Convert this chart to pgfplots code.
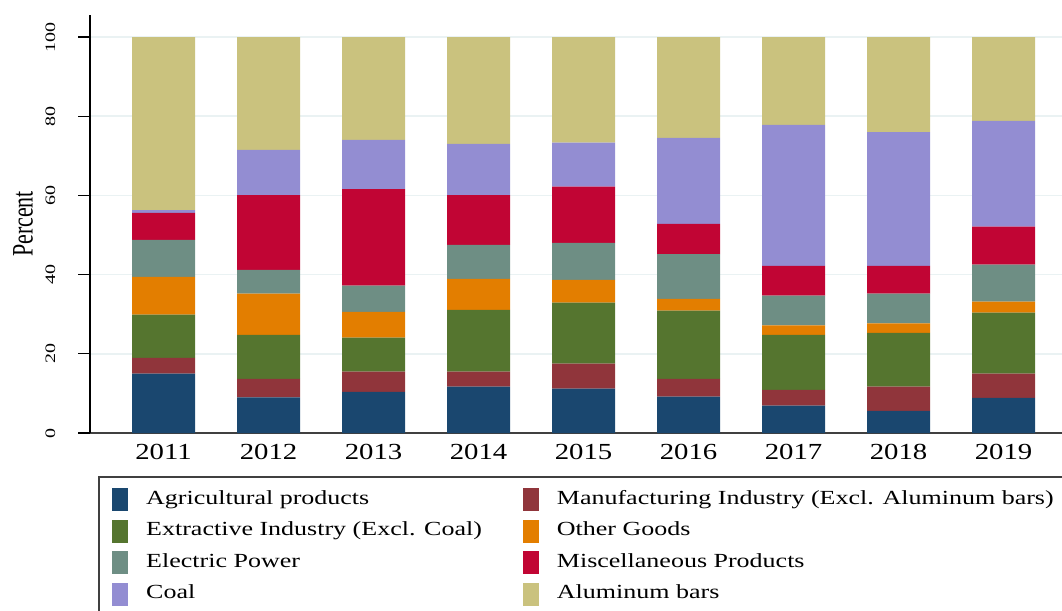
\documentclass[border=0pt]{standalone}
\usepackage{pgfplots}
\pgfplotsset{compat=1.18}
\usepackage{pgfplotstable}
\usepackage{graphicx}
\usepackage{fontspec}
\setmainfont{Liberation Serif}

\definecolor{cNavy}{RGB}{26,71,111}
\definecolor{cMaroon}{RGB}{144,53,59}
\definecolor{cGreen}{RGB}{85,117,47}
\definecolor{cOrange}{RGB}{227,126,0}
\definecolor{cTeal}{RGB}{110,142,132}
\definecolor{cCran}{RGB}{193,5,52}
\definecolor{cLav}{RGB}{147,141,210}
\definecolor{cKhaki}{RGB}{202,194,126}
\definecolor{cGrid}{RGB}{234,242,243}
\definecolor{cAxis}{RGB}{64,64,64}

\pgfplotstableread{
x agr man ext oth ele mis coa alu
0 15.0 4.0 10.9 9.5 9.4 6.8 0.7 43.7
1 9.0 4.7 11.1 10.4 6.0 18.9 11.4 28.5
2 10.4 5.1 8.6 6.5 6.6 24.4 12.4 26.0
3 11.7 3.8 15.6 7.8 8.6 12.6 12.9 27.0
4 11.2 6.3 15.4 5.8 9.3 14.2 11.1 26.7
5 9.2 4.5 17.2 3.0 11.3 7.6 21.7 25.5
6 6.9 4.0 13.9 2.4 7.5 7.5 35.6 22.2
7 5.6 6.1 13.6 2.4 7.5 7.0 33.8 24.0
8 8.9 6.1 15.4 2.8 9.3 9.6 26.7 21.2
}\datatable

\newcommand{\xl}[1]{\scalebox{1.25}[1]{#1}}
\newcommand{\lt}[1]{\scalebox{1.3}[1]{#1}}

\pgfplotsset{
  sq/.style={legend image code/.code={\fill[#1] (0pt,-13pt) rectangle (16pt,10pt);}}
}

\begin{document}
\begin{tikzpicture}
\useasboundingbox (0,0) rectangle (1062pt,610pt);
\clip (0,0) rectangle (1062pt,610pt);
\begin{axis}[
  at={(90pt,177pt)}, anchor=south west,
  scale only axis, width=972pt, height=418pt,
  ybar stacked, bar width=0.6,
  xmin=-0.7, xmax=8.557, ymin=0, ymax=105.56,
  axis x line*=bottom, axis y line*=left,
  x axis line style={cAxis, line width=1.5pt},
  y axis line style={black, line width=1.5pt},
  xtick={0,...,8},
  xticklabels={\xl{2011},\xl{2012},\xl{2013},\xl{2014},\xl{2015},\xl{2016},\xl{2017},\xl{2018},\xl{2019}},
  xticklabel style={font=\fontsize{23}{26}\selectfont, anchor=north, inner sep=0pt},
  major x tick style={draw=none},
  ytick={0,20,...,100},
  yticklabel={\rotatebox{90}{\scalebox{1}[0.72]{\pgfmathprintnumber{\tick}}}},
  yticklabel style={font=\fontsize{20}{24}\selectfont, anchor=east, inner sep=0pt, xshift=-23pt},
  /pgf/number format/assume math mode=true,
  tick align=outside, major tick length=11.5pt,
  major y tick style={black, line width=1.3pt},
  ymajorgrids, major grid style={cGrid, line width=1.5pt},
  ylabel={\scalebox{1}[1.35]{Percent}},
  ylabel style={font=\fontsize{22}{26}\selectfont, at={(axis description cs:-0.0689,0.5)}, anchor=center},
  legend columns=2, legend cell align=left,
  legend style={at={(axis description cs:0.02263,-0.1316)}, anchor=north west, draw=none, fill=none, inner sep=0pt, row sep=8.5pt, font=\fontsize{20}{24}\selectfont, nodes={inner sep=0pt}, /tikz/every odd column/.append style={column sep=18pt}, /tikz/every even column/.append style={column sep=41pt}},
]
\addplot[fill=cNavy, draw=none, sq=cNavy] table[x=x,y=agr]{\datatable};
\addlegendentry{\lt{Agricultural products}}
\addplot[fill=cMaroon, draw=none, sq=cMaroon] table[x=x,y=man]{\datatable};
\addlegendentry{\lt{Manufacturing Industry (Excl. Aluminum bars)}}
\addplot[fill=cGreen, draw=none, sq=cGreen] table[x=x,y=ext]{\datatable};
\addlegendentry{\lt{Extractive Industry (Excl. Coal)}}
\addplot[fill=cOrange, draw=none, sq=cOrange] table[x=x,y=oth]{\datatable};
\addlegendentry{\lt{Other Goods}}
\addplot[fill=cTeal, draw=none, sq=cTeal] table[x=x,y=ele]{\datatable};
\addlegendentry{\lt{Electric Power}}
\addplot[fill=cCran, draw=none, sq=cCran] table[x=x,y=mis]{\datatable};
\addlegendentry{\lt{Miscellaneous Products}}
\addplot[fill=cLav, draw=none, sq=cLav] table[x=x,y=coa]{\datatable};
\addlegendentry{\lt{Coal}}
\addplot[fill=cKhaki, draw=none, sq=cKhaki] table[x=x,y=alu]{\datatable};
\addlegendentry{\lt{Aluminum bars}}
\end{axis}
\draw[cAxis, line width=1.5pt] (1100pt,133pt) -- (99pt,133pt) -- (99pt,-20pt);
\end{tikzpicture}
\end{document}
